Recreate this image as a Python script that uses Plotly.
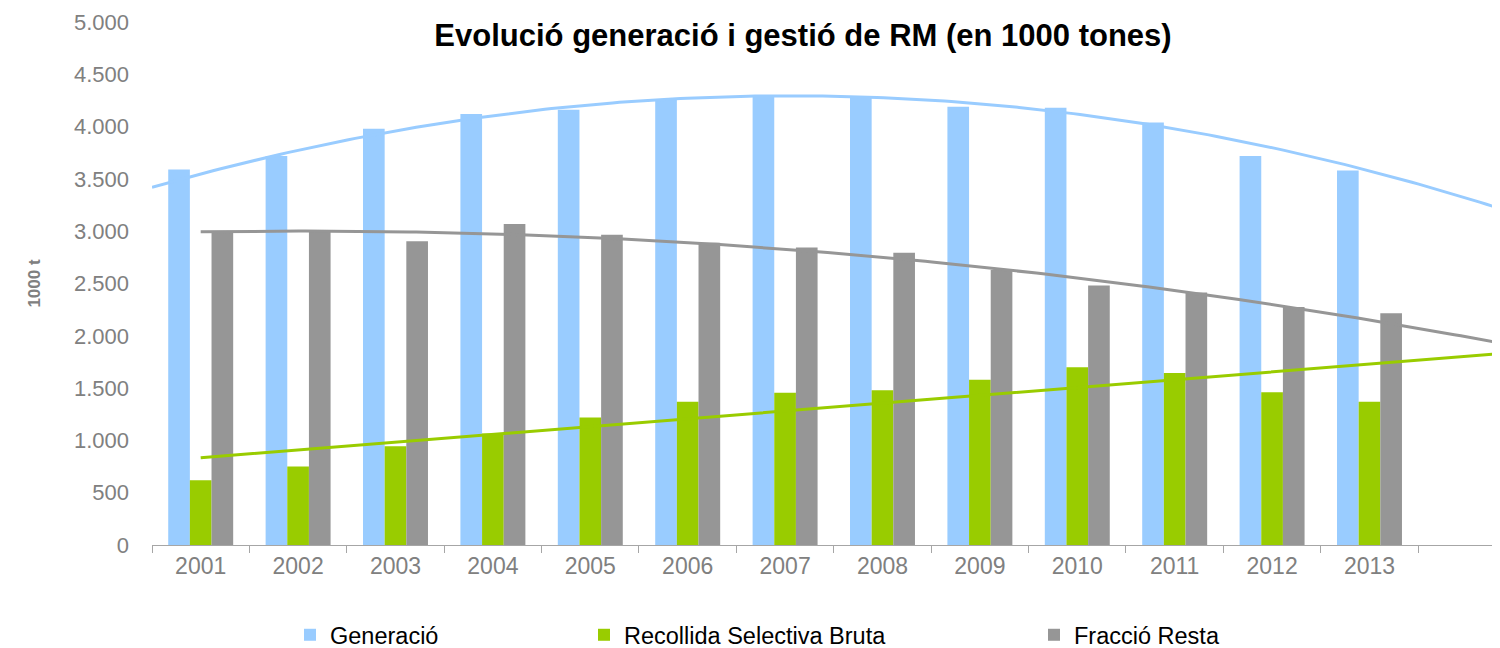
import numpy as np
import plotly.graph_objects as go

years = [2001, 2002, 2003, 2004, 2005, 2006, 2007, 2008, 2009, 2010, 2011, 2012, 2013]
generacio = [3590, 3720, 3980, 4120, 4160, 4260, 4300, 4290, 4190, 4180, 4040, 3720, 3580]
recollida = [620, 750, 945, 1065, 1220, 1370, 1455, 1480, 1580, 1700, 1645, 1460, 1370]
fraccio = [2995, 2995, 2905, 3070, 2965, 2890, 2845, 2795, 2630, 2480, 2415, 2275, 2215]

names = ["Generació", "Recollida Selectiva Bruta", "Fracció Resta"]
colors = ["#99CCFF", "#99CC00", "#969696"]
trend_order = [2, 1, 2]
trend_start = [2000.5, 2001, 2001]
x_end = 2014.34

fig = go.Figure()
series = [generacio, recollida, fraccio]
legends = ["legend", "legend2", "legend3"]
for i, (nm, vals, col) in enumerate(zip(names, series, colors)):
    fig.add_trace(go.Bar(x=years, y=vals, name=nm, marker=dict(color=col, line=dict(width=0)),
                         legend=legends[i], offsetgroup=str(i)))

for i, (vals, col) in enumerate(zip(series, colors)):
    coef = np.polyfit(np.array(years) - 2007, vals, trend_order[i])
    xs = np.linspace(trend_start[i], x_end, 200)
    ys = np.polyval(coef, xs - 2007)
    fig.add_trace(go.Scatter(x=xs, y=ys, mode="lines", line=dict(color=col, width=3),
                             showlegend=False, hoverinfo="skip"))

# the page body has an 8px margin, so figure coordinates = page coordinates - 8
OFF = 8
font = "Liberation Sans, Arial, sans-serif"
legend_common = dict(orientation="h", yref="container", y=1 - (635 - OFF) / 648, yanchor="middle",
                     xref="container", xanchor="left",
                     font=dict(family=font, size=23.5, color="#000000"), bgcolor="rgba(0,0,0,0)",
                     itemwidth=30)
leg_x = [282, 576, 1026]
fig.update_layout(
    width=1500, height=648,
    margin=dict(l=152 - OFF, r=OFF, t=22 - OFF, b=648 - (545 - OFF), autoexpand=False),
    paper_bgcolor="white", plot_bgcolor="white",
    separators=",.",
    barmode="group", bargap=0.333, bargroupgap=0,
    title=dict(text="<b>Evolució generació i gestió de RM (en 1000 tones)</b>",
               x=(803 - OFF) / 1500, xref="container", xanchor="center",
               y=1 - (35 - OFF) / 648, yref="container", yanchor="middle",
               font=dict(family=font, size=31, color="#000000")),
    legend=dict(legend_common, x=leg_x[0] / 1500),
    legend2=dict(legend_common, x=leg_x[1] / 1500),
    legend3=dict(legend_common, x=leg_x[2] / 1500),
    xaxis=dict(type="linear", range=[2000.5, x_end], tickvals=years, ticktext=[str(y) for y in years],
               ticks="", showgrid=False, zeroline=False, automargin=False,
               showline=True, linecolor="#A6A6A6", linewidth=1,
               tickfont=dict(family=font, size=23, color="#808080"),
               minor=dict(tick0=2000.5, dtick=1, ticks="outside", ticklen=7, tickcolor="#A6A6A6",
                          showgrid=False)),
    yaxis=dict(range=[0, 5000], dtick=500, tickformat=",d", showgrid=False, zeroline=False,
               showline=False, ticks="", ticklabelstandoff=22, automargin=False,
               tickfont=dict(family=font, size=22, color="#808080"),
               title=dict(text="<b>1000 t</b>", standoff=28,
                          font=dict(family=font, size=17, color="#808080"))),
)
fig.write_html("out.html")
